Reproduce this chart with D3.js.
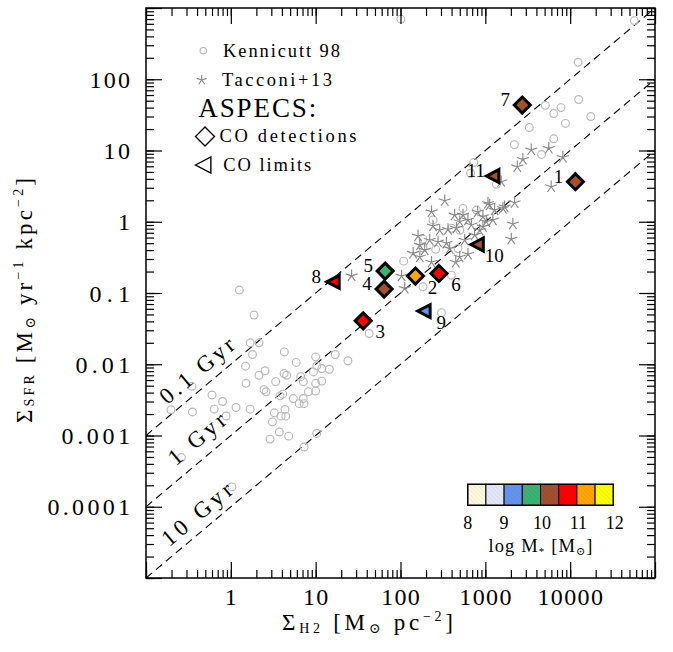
<!DOCTYPE html>
<html><head><meta charset="utf-8">
<script src="https://cdn.jsdelivr.net/npm/d3@7"></script>
<style>
body{margin:0;background:#fff}
svg{display:block}
text{font-family:"Liberation Serif","DejaVu Serif","Times New Roman",serif;fill:#000}
</style>
</head><body>
<svg id="chart" width="673" height="652" font-family="Liberation Serif, DejaVu Serif, serif"></svg>
<script>
// ---------------- data ----------------
const xTickValues = [1, 10, 100, 1000, 10000];
const xTickLabels = ["1", "10", "100", "1000", "10000"];
const yTickValues = [1e-4, 1e-3, 1e-2, 0.1, 1, 10, 100];
const yTickLabels = ["0.0001", "0.001", "0.01", "0.1", "1", "10", "100"];

const depletionTimesGyr = [0.1, 1, 10];
const depletionLabels = ["0.1 Gyr", "1 Gyr", "10 Gyr"];

// Kennicutt 98 (Sigma_H2 [Msun/pc^2], Sigma_SFR [Msun/yr/kpc^2])
const kennicuttH2 = [101, 57000, 12400, 12600, 5100, 7800, 6400, 17500, 8800, 3300, 6400, 2200, 4600, 730, 670, 1350,
  545, 785, 242, 500, 400, 184, 184, 260, 476, 109, 398, 184, 304, 42.7, 1.26, 1.88, 1.69, 2.15, 1.80, 4.27, 1.49, 5.9,
  10, 17, 24, 10.3, 11.8, 14.5, 9.4, 2.53, 2.15, 4.24, 4.56, 6.66, 0.348, 1.51, 3.38, 7.15, 10, 11.8, 2.46, 2.6, 3.8,
  4.09, 8.2, 10, 0.6, 0.8, 5.45, 7.15, 6.4, 7.3, 0.197, 0.353, 0.636, 0.88, 1.15, 1.69, 3.26, 3.91, 4.44, 4.35, 3.09,
  3.73, 4.81, 2.9, 10.3, 7.3, 0.262, 1.03];
const kennicuttSFR = [697, 665, 173, 52, 43, 40, 33, 30, 24, 21, 14.6, 12.1, 8.8, 6.8, 4.8, 3.35,
  1.54, 1.46, 1.06, 0.76, 0.81, 0.57, 0.43, 0.41, 0.42, 0.28, 0.178, 0.122, 0.053, 0.027, 0.11, 0.049, 0.020, 0.020,
  0.0137, 0.0149, 0.0094, 0.0106, 0.0127, 0.0137, 0.0112, 0.0095, 0.0087, 0.0085, 0.0078, 0.0081, 0.0070, 0.0074,
  0.0070, 0.0067, 0.0049, 0.0054, 0.0057, 0.0057, 0.0054, 0.0058, 0.0044, 0.0041, 0.0036, 0.0038, 0.0041, 0.0042,
  0.0037, 0.0030, 0.0033, 0.0033, 0.0028, 0.0028, 0.0023, 0.00214, 0.00234, 0.00188, 0.00247, 0.00234, 0.00208,
  0.00187, 0.00187, 0.00232, 0.00155, 0.00112, 0.00098, 0.00089, 0.00107, 0.00069, 0.00049, 0.00019];

// Tacconi+13
const tacconiH2 = [3475, 5600, 2770, 2380, 8200, 5970, 1540, 332, 232, 545, 624, 499, 684, 456, 937, 1074, 1286, 1687,
  2213, 1027, 857, 1228, 937, 2112, 2023, 363, 290, 242, 161, 221, 277, 348, 380, 193, 141, 169, 499, 624, 232, 103,
  112, 26.5, 1124, 1611, 748, 571, 812, 435, 169, 448];
const tacconiSFR = [10.2, 10.7, 7.5, 5.9, 8.0, 3.1, 3.65, 1.97, 1.38, 1.24, 1.06, 1.0, 0.9, 0.81, 1.18, 1.81, 1.46, 1.62,
  1.85, 1.0, 0.76, 1.06, 0.85, 0.93, 0.57, 0.78, 0.76, 0.87, 0.63, 0.55, 0.52, 0.5, 0.42, 0.4, 0.36, 0.32, 0.32, 0.35,
  0.27, 0.173, 0.116, 0.174, 1.72, 1.54, 0.65, 0.55, 1.37, 1.24, 0.47, 0.27];

// ASPECS galaxies
const aspecsIds   = ["1", "2", "3", "4", "5", "6", "7", "8", "9", "10", "11"];
const aspecsH2    = [11540, 150, 36.3, 64.1, 65.9, 284, 2723, 16.1, 190, 805, 1228];
const aspecsSFR   = [3.65, 0.173, 0.0407, 0.1135, 0.203, 0.188, 43.5, 0.1436, 0.0557, 0.48, 4.38];
const aspecsKind  = ["det", "det", "det", "det", "det", "det", "det", "lim", "lim", "lim", "lim"];
const aspecsLogM  = [10.25, 11.25, 10.75, 10.25, 9.75, 10.75, 10.25, 10.75, 9.25, 10.25, 10.25];
const aspecsLabelSide = ["ul", "lr", "lr", "ul", "ul", "lr", "ul", "ul", "lr", "lr", "ul"];

// stellar-mass colour bar
const massBinEdges = [8, 8.5, 9, 9.5, 10, 10.5, 11, 11.5, 12];
const massColors = ["#FFF8DC", "#E6E6FA", "#6495ED", "#3CB371", "#A0522D", "#FF0000", "#FFA500", "#FFFF00"];
const massTickValues = [8, 9, 10, 11, 12];
const massTickLabels = ["8", "9", "10", "11", "12"];

const legendLabels = ["Kennicutt 98", "Tacconi+13", "ASPECS:", "CO detections", "CO limits"];

// ---------------- drawing ----------------
const svg = d3.select("#chart");
const L = 146, R = 655, T = 8, B = 578;
const x = d3.scaleLog().domain([0.1, 1e5]).range([L, R]);
const y = d3.scaleLog().domain([1e-5, 1e3]).range([B, T]);

svg.append("defs").append("clipPath").attr("id", "clip")
  .append("rect").attr("x", L).attr("y", T).attr("width", R - L).attr("height", B - T);
const pat = svg.select("defs").append("pattern").attr("id", "hatch")
  .attr("patternUnits", "userSpaceOnUse").attr("width", 3).attr("height", 3)
  .attr("patternTransform", "rotate(-45)");
pat.append("line").attr("x1", 0).attr("y1", 0).attr("x2", 0).attr("y2", 3)
  .attr("stroke", "rgba(0,0,0,0.10)").attr("stroke-width", 1);

const plot = svg.append("g").attr("clip-path", "url(#clip)");

// depletion time lines
const line = d3.line().x(d => x(d[0])).y(d => y(d[1]));
const angle = Math.atan2(y(10) - y(1), x(10) - x(1)) * 180 / Math.PI;
depletionTimesGyr.forEach((t, i) => {
  const f = v => v / (t * 1000);
  const dom = x.domain();
  plot.append("path").attr("d", line([[dom[0], f(dom[0])], [dom[1], f(dom[1])]]))
    .attr("fill", "none").attr("stroke", "#000").attr("stroke-width", 1.1)
    .attr("stroke-dasharray", "8,5");
  const px = 197;
  const py = y(f(x.invert(px))) - [22, 25, 21][i];
  const lens = [90, 68, 85];
  svg.append("text").attr("transform", `translate(${px},${py}) rotate(${angle})`)
    .attr("text-anchor", "middle").attr("dy", 7.5).attr("font-size", 23)
    .attr("textLength", lens[i]).attr("lengthAdjust", "spacing")
    .text(depletionLabels[i]);
});

// Kennicutt circles
plot.append("g").selectAll("circle").data(kennicuttH2.map((v, i) => [v, kennicuttSFR[i]]))
  .join("circle").attr("cx", d => x(d[0])).attr("cy", d => y(d[1])).attr("r", 3.9)
  .attr("fill", "none").attr("stroke", "#b8b8b8").attr("stroke-width", 1.15);

// Tacconi stars
function starPath(r) {
  let p = "";
  for (let k = 0; k < 5; k++) {
    const a = (-90 + 72 * k) * Math.PI / 180;
    p += `M0,0L${(r * Math.cos(a)).toFixed(2)},${(r * Math.sin(a)).toFixed(2)}`;
  }
  return p;
}
plot.append("g").selectAll("path").data(tacconiH2.map((v, i) => [v, tacconiSFR[i]]))
  .join("path").attr("d", starPath(6.3))
  .attr("transform", d => `translate(${x(d[0])},${y(d[1])})`)
  .attr("fill", "none").attr("stroke", "#888").attr("stroke-width", 1.15);

// ASPECS
const massColor = d3.scaleThreshold().domain(massBinEdges.slice(1, -1)).range(massColors);
const diamond = s => `M0,${-s}L${s},0L0,${s}L${-s},0Z`;
const triLeft = s => `M${-s},0L${s * 0.92},${-s}L${s * 0.92},${s}Z`;
const aspecs = aspecsIds.map((id, i) => ({id, h2: aspecsH2[i], sfr: aspecsSFR[i], kind: aspecsKind[i],
  m: aspecsLogM[i], side: aspecsLabelSide[i]}));
const ag = svg.append("g");
ag.selectAll("path").data(aspecs).join("path")
  .attr("d", d => d.kind === "det" ? diamond(8) : triLeft(6.5))
  .attr("transform", d => `translate(${x(d.h2)},${y(d.sfr)})`)
  .attr("fill", d => massColor(d.m)).attr("stroke", "#000").attr("stroke-width", 3)
  .attr("stroke-linejoin", "miter");
ag.selectAll("text").data(aspecs).join("text")
  .attr("x", d => x(d.h2) + (d.side === "ul" ? -17 : 17))
  .attr("y", d => y(d.sfr) + (d.side === "ul" ? -5.5 : 11) + 6.5)
  .attr("text-anchor", "middle").attr("font-size", 19)
  .text(d => d.id);

// legend
const lg = svg.append("g");
lg.append("circle").attr("cx", 203.3).attr("cy", 50.7).attr("r", 3.2)
  .attr("fill", "none").attr("stroke", "#b8b8b8").attr("stroke-width", 1.1);
lg.append("path").attr("d", starPath(5.2)).attr("transform", "translate(201.7,80)")
  .attr("fill", "none").attr("stroke", "#888").attr("stroke-width", 1.1);
lg.append("path").attr("d", diamond(9.5)).attr("transform", "translate(205,136.5)")
  .attr("fill", "#fff").attr("stroke", "#000").attr("stroke-width", 1.4);
lg.append("path").attr("d", triLeft(8)).attr("transform", "translate(203.5,165)")
  .attr("fill", "#fff").attr("stroke", "#000").attr("stroke-width", 1.4);
const legPos = [[223, 57, 18.5, 117], [222, 85.5, 18.5, 110], [198.3, 116.7, 27, 118], [219.5, 142, 18.5, 137], [223.3, 170.5, 18.5, 88]];
legendLabels.forEach((s, i) => {
  const p = legPos[i];
  lg.append("text").attr("x", p[0]).attr("y", p[1]).attr("font-size", p[2])
    .attr("textLength", p[3]).attr("lengthAdjust", "spacing").text(s);
});

// colour bar
const cx = d3.scaleLinear().domain([8, 12]).range([467.7, 613.3]);
const cb = svg.append("g");
const cells = d3.range(massColors.length).map(i => ({a: massBinEdges[i], b: massBinEdges[i + 1], c: massColors[i]}));
cb.selectAll("rect.cell").data(cells).join("rect").attr("class", "cell")
  .attr("x", d => cx(d.a)).attr("y", 484.3).attr("width", d => cx(d.b) - cx(d.a)).attr("height", 21)
  .attr("fill", d => d.c).attr("stroke", "#000").attr("stroke-width", 1);
cb.selectAll("rect.h").data(cells).join("rect").attr("class", "h")
  .attr("x", d => cx(d.a)).attr("y", 484.3).attr("width", d => cx(d.b) - cx(d.a)).attr("height", 21)
  .attr("fill", "url(#hatch)");
cb.append("rect").attr("x", cx(8)).attr("y", 484.3).attr("width", cx(12) - cx(8)).attr("height", 21)
  .attr("fill", "none").attr("stroke", "#000").attr("stroke-width", 1.4);
massTickValues.forEach((v, i) => {
  const s = massTickLabels[i];
  cb.append("text").attr("x", cx(v) + (s.length > 1 ? 1.5 : 0)).attr("y", 528.5).attr("text-anchor", "middle")
    .attr("font-size", 18).text(s);
});
const mlab = cb.append("text").attr("x", 488.5).attr("y", 551.7).attr("font-size", 18.5)
  .attr("textLength", 104).attr("lengthAdjust", "spacing");
mlab.append("tspan").text("log M");
mlab.append("tspan").attr("font-size", 11).attr("dy", 3).text("*");
mlab.append("tspan").attr("dy", -3).text(" [M");
mlab.append("tspan").attr("font-size", 11).attr("dy", 3).text("⊙");
mlab.append("tspan").attr("dy", -3).text("]");

// frame and ticks
const ax = svg.append("g");
const minorX = [], minorY = [];
for (let e = -1; e <= 4; e++) for (let k = 1; k <= 9; k++) minorX.push(k * Math.pow(10, e));
minorX.push(1e5);
for (let e = -5; e <= 2; e++) for (let k = 1; k <= 9; k++) minorY.push(k * Math.pow(10, e));
minorY.push(1e3);
const majorX = [0.1, 1, 10, 100, 1000, 10000, 1e5];
const majorY = [1e-5, 1e-4, 1e-3, 1e-2, 0.1, 1, 10, 100, 1000];
function tickAxis(gen, scale, vals, size, tr) {
  const g = ax.append("g").attr("transform", tr)
    .call(gen(scale).tickValues(vals).tickSize(-size).tickFormat(""));
  g.select(".domain").remove();
  g.selectAll("line").attr("stroke", "#000").attr("stroke-width", 1.2);
}
tickAxis(d3.axisBottom, x, minorX, 8, `translate(0,${B})`);
tickAxis(d3.axisBottom, x, majorX, 16, `translate(0,${B})`);
tickAxis(d3.axisTop, x, minorX, 8, `translate(0,${T})`);
tickAxis(d3.axisTop, x, majorX, 16, `translate(0,${T})`);
tickAxis(d3.axisLeft, y, minorY, 8, `translate(${L},0)`);
tickAxis(d3.axisLeft, y, majorY, 16, `translate(${L},0)`);
tickAxis(d3.axisRight, y, minorY, 8, `translate(${R},0)`);
tickAxis(d3.axisRight, y, majorY, 16, `translate(${R},0)`);
ax.append("rect").attr("x", L).attr("y", T).attr("width", R - L).attr("height", B - T)
  .attr("fill", "none").attr("stroke", "#000").attr("stroke-width", 1.5);

// tick labels
xTickValues.forEach((v, i) => {
  const s = xTickLabels[i];
  ax.append("text").attr("x", x(v)).attr("y", 605).attr("text-anchor", "middle").attr("font-size", 24)
    .attr("textLength", 13.4 * s.length - 1.5).attr("lengthAdjust", "spacing").text(s);
});
yTickValues.forEach((v, i) => {
  const s = yTickLabels[i];
  ax.append("text").attr("x", 130).attr("y", y(v) + 8.5).attr("text-anchor", "end").attr("font-size", 24)
    .attr("textLength", 14 * s.length - 1.5).attr("lengthAdjust", "spacing").text(s);
});

// axis titles
const xt = svg.append("text").attr("x", 282).attr("y", 630).attr("font-size", 23)
  .attr("textLength", 171).attr("lengthAdjust", "spacing");
xt.append("tspan").text("Σ");
xt.append("tspan").attr("font-size", 14).attr("dy", 3).text("H2");
xt.append("tspan").attr("dy", -3).text(" [M");
xt.append("tspan").attr("font-size", 14).attr("dy", 3).text("⊙");
xt.append("tspan").attr("dy", -3).text(" pc");
xt.append("tspan").attr("font-size", 14).attr("dy", -9).text("−2");
xt.append("tspan").attr("dy", 9).text("]");

const yt = svg.append("text").attr("transform", "translate(32,423) rotate(-90)").attr("font-size", 23)
  .attr("textLength", 245).attr("lengthAdjust", "spacing");
yt.append("tspan").text("Σ");
yt.append("tspan").attr("font-size", 14).attr("dy", 2).text("SFR");
yt.append("tspan").attr("dy", -2).text(" [M");
yt.append("tspan").attr("font-size", 14).attr("dy", 3).text("⊙");
yt.append("tspan").attr("dy", -3).text(" yr");
yt.append("tspan").attr("font-size", 14).attr("dy", -9).text("−1");
yt.append("tspan").attr("dy", 9).text(" kpc");
yt.append("tspan").attr("font-size", 14).attr("dy", -9).text("−2");
yt.append("tspan").attr("dy", 9).text("]");
</script>
</body></html>
